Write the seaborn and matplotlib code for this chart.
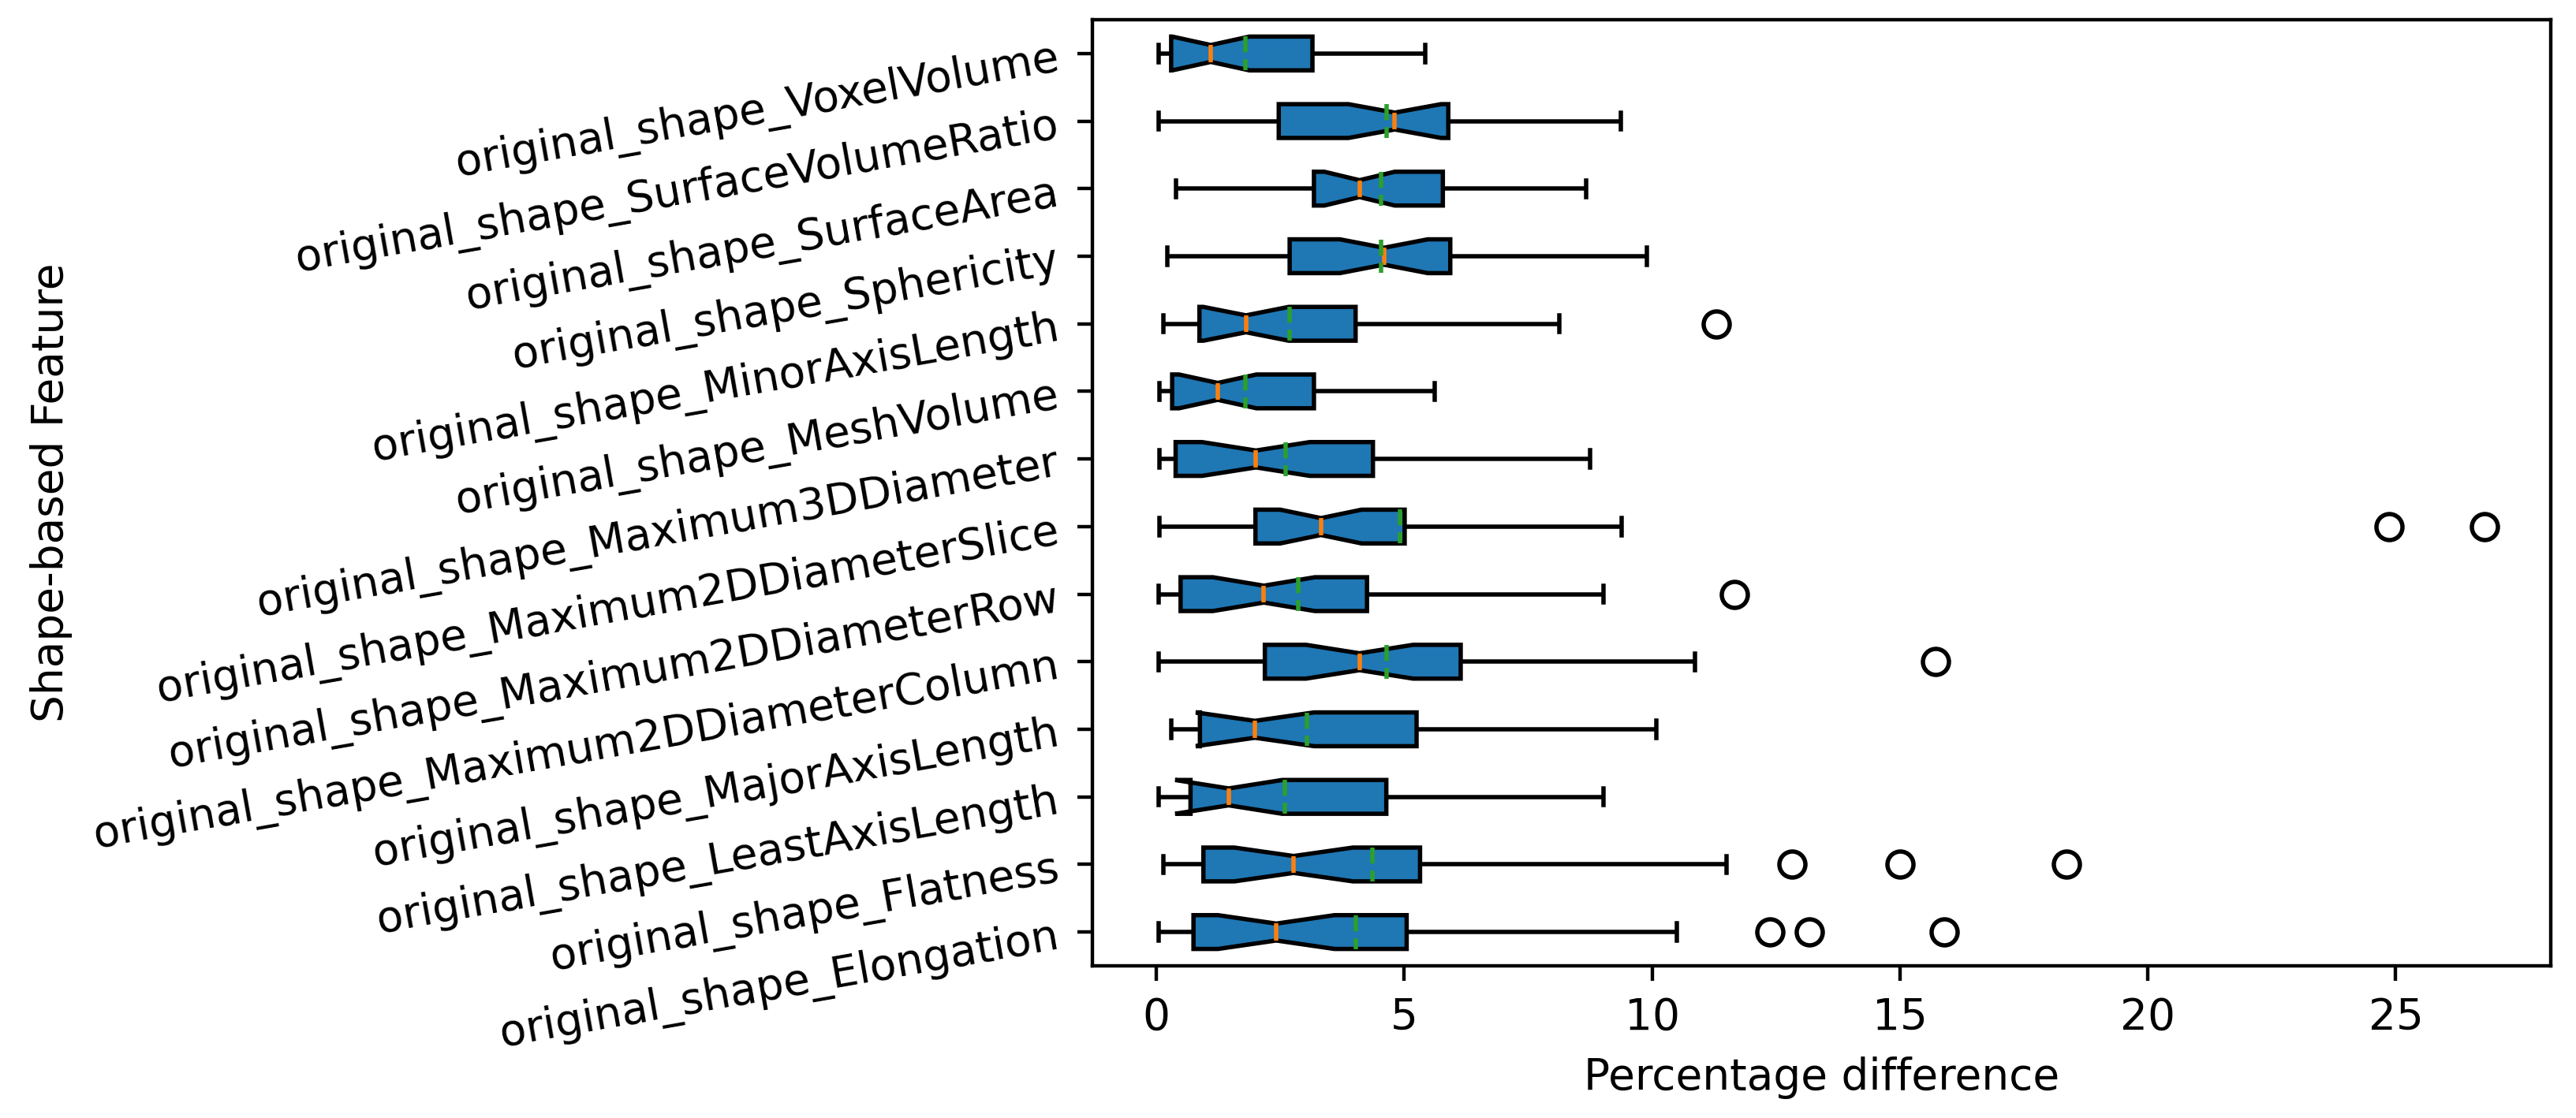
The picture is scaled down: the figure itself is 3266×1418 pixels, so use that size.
import pandas as pd
import seaborn as sns
import matplotlib.pyplot as plt

# feature names, top to bottom
features = [
    "original_shape_VoxelVolume",
    "original_shape_SurfaceVolumeRatio",
    "original_shape_SurfaceArea",
    "original_shape_Sphericity",
    "original_shape_MinorAxisLength",
    "original_shape_MeshVolume",
    "original_shape_Maximum3DDiameter",
    "original_shape_Maximum2DDiameterSlice",
    "original_shape_Maximum2DDiameterRow",
    "original_shape_Maximum2DDiameterColumn",
    "original_shape_MajorAxisLength",
    "original_shape_LeastAxisLength",
    "original_shape_Flatness",
    "original_shape_Elongation",
]

# percentage differences per feature (33 cases each)
voxel_volume = [0.05, 0.08, 0.10, 0.13, 0.16, 0.19, 0.22, 0.26, 0.30, 0.38, 0.47,
                0.58, 0.68, 0.79, 0.90, 1.01, 1.10, 1.30, 1.55, 1.80, 2.10, 2.40,
                2.70, 2.95, 3.15, 3.30, 3.60, 3.90, 4.10, 4.30, 4.50, 4.59, 5.43]
surface_volume_ratio = [0.05, 0.40, 0.80, 1.20, 1.55, 1.85, 2.10, 2.30, 2.47, 2.80, 3.10,
                        3.40, 3.70, 4.00, 4.30, 4.60, 4.81, 4.90, 5.00, 5.15, 5.30, 5.45,
                        5.60, 5.75, 5.89, 6.80, 7.50, 8.00, 8.30, 8.60, 8.90, 9.18, 9.37]
surface_area = [0.39, 0.90, 1.40, 1.85, 2.25, 2.60, 2.85, 3.05, 3.18, 3.28, 3.40,
                3.52, 3.65, 3.78, 3.90, 4.00, 4.10, 4.30, 4.50, 4.75, 5.00, 5.20,
                5.40, 5.60, 5.78, 6.40, 6.90, 7.30, 7.60, 7.90, 8.20, 8.22, 8.67]
sphericity = [0.23, 0.60, 1.00, 1.40, 1.75, 2.05, 2.30, 2.50, 2.69, 2.90, 3.15,
              3.40, 3.65, 3.90, 4.15, 4.40, 4.59, 4.75, 4.90, 5.05, 5.25, 5.45,
              5.60, 5.80, 5.93, 6.20, 6.60, 7.00, 7.40, 7.90, 8.50, 8.93, 9.90]
minor_axis_length = [0.14, 0.20, 0.28, 0.37, 0.46, 0.56, 0.66, 0.77, 0.87, 0.98, 1.10,
                     1.22, 1.35, 1.48, 1.60, 1.72, 1.81, 2.00, 2.25, 2.55, 2.85, 3.15,
                     3.50, 3.80, 4.02, 4.20, 4.50, 4.80, 5.10, 5.40, 5.65, 8.13, 11.30]
mesh_volume = [0.07, 0.08, 0.10, 0.12, 0.15, 0.19, 0.23, 0.27, 0.32, 0.40, 0.52,
               0.64, 0.76, 0.88, 1.00, 1.12, 1.24, 1.38, 1.60, 1.85, 2.10, 2.40,
               2.70, 2.95, 3.18, 3.25, 3.45, 3.70, 3.90, 4.15, 4.40, 4.56, 5.61]
maximum_3d_diameter = [0.06, 0.09, 0.13, 0.17, 0.21, 0.26, 0.30, 0.34, 0.39, 0.55, 0.75,
                       0.95, 1.15, 1.38, 1.60, 1.80, 2.01, 2.20, 2.50, 2.80, 3.10, 3.45,
                       3.80, 4.10, 4.37, 4.50, 4.75, 5.00, 5.40, 5.80, 6.30, 6.90, 8.75]
maximum_2d_diameter_slice = [0.06, 0.30, 0.60, 0.90, 1.20, 1.45, 1.65, 1.85, 2.00, 2.10, 2.30,
                             2.50, 2.70, 2.90, 3.05, 3.20, 3.32, 3.50, 3.75, 4.00, 4.25, 4.50,
                             4.70, 4.90, 5.01, 5.60, 6.30, 7.00, 7.50, 7.97, 9.38, 24.86, 26.79]
maximum_2d_diameter_row = [0.05, 0.10, 0.15, 0.21, 0.27, 0.33, 0.39, 0.44, 0.49, 0.70, 0.90,
                           1.10, 1.35, 1.60, 1.85, 2.05, 2.17, 2.40, 2.65, 2.90, 3.20, 3.50,
                           3.80, 4.05, 4.25, 4.50, 4.85, 5.20, 5.55, 6.00, 6.70, 9.02, 11.66]
maximum_2d_diameter_column = [0.05, 0.35, 0.70, 1.00, 1.30, 1.60, 1.85, 2.05, 2.19, 2.40, 2.70,
                              3.00, 3.30, 3.55, 3.80, 3.95, 4.10, 4.35, 4.60, 4.90, 5.20, 5.50,
                              5.75, 5.95, 6.14, 6.50, 7.00, 7.50, 8.00, 8.50, 8.76, 10.86, 15.72]
major_axis_length = [0.30, 0.38, 0.45, 0.53, 0.61, 0.68, 0.75, 0.82, 0.88, 1.00, 1.15,
                     1.30, 1.45, 1.60, 1.75, 1.88, 1.99, 2.30, 2.70, 3.10, 3.50, 3.95,
                     4.40, 4.85, 5.25, 5.40, 5.60, 5.80, 6.00, 6.30, 6.60, 6.97, 10.08]
least_axis_length = [0.05, 0.12, 0.20, 0.28, 0.36, 0.45, 0.54, 0.62, 0.69, 0.78, 0.88,
                     0.98, 1.08, 1.18, 1.28, 1.38, 1.46, 1.75, 2.10, 2.50, 2.90, 3.35,
                     3.80, 4.25, 4.64, 4.80, 5.00, 5.25, 5.50, 5.80, 6.20, 6.61, 9.02]
flatness = [0.14, 0.22, 0.32, 0.42, 0.52, 0.63, 0.74, 0.85, 0.95, 1.15, 1.40,
            1.65, 1.90, 2.15, 2.40, 2.60, 2.77, 3.05, 3.40, 3.75, 4.10, 4.45,
            4.80, 5.10, 5.32, 6.50, 7.50, 8.40, 9.01, 11.50, 12.82, 15.01, 18.36]
elongation = [0.05, 0.13, 0.22, 0.31, 0.40, 0.49, 0.58, 0.67, 0.75, 0.95, 1.15,
              1.40, 1.65, 1.90, 2.10, 2.30, 2.42, 2.70, 3.05, 3.40, 3.75, 4.10,
              4.45, 4.80, 5.05, 6.50, 7.50, 8.50, 9.46, 10.50, 12.37, 13.17, 15.89]

all_values = [voxel_volume, surface_volume_ratio, surface_area, sphericity,
              minor_axis_length, mesh_volume, maximum_3d_diameter,
              maximum_2d_diameter_slice, maximum_2d_diameter_row,
              maximum_2d_diameter_column, major_axis_length, least_axis_length,
              flatness, elongation]

rows = []
for name, vals in zip(features, all_values):
    for v in vals:
        rows.append((name, v))
data = pd.DataFrame(rows, columns=["feature", "pct_diff"])

dpi = 396
fig, ax = plt.subplots(figsize=(3266 / dpi, 1418 / dpi), dpi=dpi)
fig.subplots_adjust(left=0.4241, right=0.9902, top=0.9824, bottom=0.1361)

sns.boxplot(data=data, x="pct_diff", y="feature", order=features, orient="h",
            width=0.5, color="#1f77b4", saturation=1, linecolor="black",
            linewidth=1, fliersize=6, shownotches=True, showmeans=True,
            meanline=True,
            medianprops=dict(color="#ff7f0e", linewidth=1),
            meanprops=dict(color="#2ca02c", linestyle="--", linewidth=1),
            flierprops=dict(marker="o", markerfacecolor="none",
                            markeredgecolor="black", markersize=6),
            ax=ax)

ax.tick_params(axis="y", labelrotation=10)
ax.set_xlabel("Percentage difference")
ax.set_ylabel("Shape-based Feature")

fig.savefig("out.png", dpi=dpi)
